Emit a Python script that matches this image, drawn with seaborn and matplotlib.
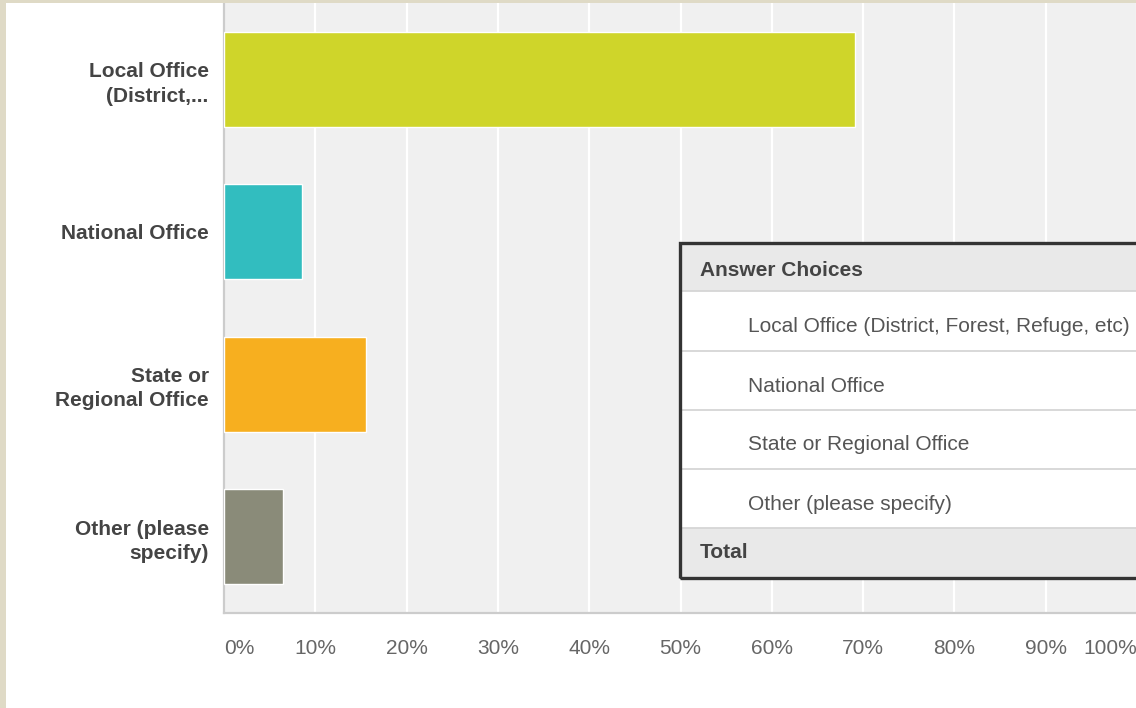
import matplotlib
matplotlib.use("Agg")
import matplotlib.pyplot as plt
import matplotlib.patches as mpatches
import seaborn as sns
import pandas as pd

# Survey responses: share of respondents per office type (%)
categories = ["Local Office\n(District,...", "National Office",
              "State or\nRegional Office", "Other (please\nspecify)"]
shares = [69.1, 8.5, 15.5, 6.5]
bar_colors = ["#cfd52a", "#32bdbf", "#f7af1f", "#8a8b79"]
tick_values = [0, 10, 20, 30, 40, 50, 60, 70, 80, 90, 100]
tick_labels = ["0%", "10%", "20%", "30%", "40%", "50%",
               "60%", "70%", "80%", "90%", "100%"]

# Rows of the answer-choices panel
table_header = "Answer Choices"
table_rows = ["Local Office (District, Forest, Refuge, etc)", "National Office",
              "State or Regional Office", "Other (please specify)"]
table_footer = "Total"

W, H = 1136, 708
FS = 15
sns.set_theme(style="white")
plt.rcParams["font.family"] = ["Liberation Sans", "DejaVu Sans"]

fig = plt.figure(figsize=(W / 100, H / 100), dpi=100, facecolor="white")


def fx(x):
    return x / W


def fy(y):
    return 1 - y / H


ax_left, ax_right, ax_top, ax_bottom = 224, 1137, 3, 613
ax = fig.add_axes([fx(ax_left), fy(ax_bottom),
                   (ax_right - ax_left) / W, (ax_bottom - ax_top) / H])
ax.set_facecolor("#f0f0f0")

df = pd.DataFrame({"category": categories, "share": shares})
sns.barplot(data=df, x="share", y="category", hue="category",
            palette=bar_colors, legend=False, width=0.62, orient="h",
            saturation=1, ax=ax, zorder=3)

ax.set_xlim(0, 100)
ax.set_ylim(3.5, -0.5)
ax.set_xlabel("")
ax.set_ylabel("")

ax.set_xticks(tick_values)
ax.set_xticklabels(tick_labels, fontsize=FS, color="#666666")
xt = ax.get_xticklabels()
xt[0].set_ha("left")
xt[-1].set_ha("right")
ax.tick_params(axis="x", length=0, pad=19)
ax.tick_params(axis="y", length=0, pad=11)
for lab in ax.get_yticklabels():
    lab.set_fontsize(FS)
    lab.set_fontweight("bold")
    lab.set_color("#444444")
    lab.set_linespacing(1.35)

ax.grid(axis="x", color="white", linewidth=1.6, zorder=1)
ax.set_axisbelow(True)
for side in ["top", "right"]:
    ax.spines[side].set_visible(False)
for side in ["left", "bottom"]:
    ax.spines[side].set_color("#cccccc")
    ax.spines[side].set_linewidth(1.6)

# Beige page frame along the left and top edges
fig.add_artist(mpatches.Rectangle((0, 0), fx(6), 1, transform=fig.transFigure,
                                  facecolor="#dfdac6", edgecolor="none", zorder=10))
fig.add_artist(mpatches.Rectangle((0, fy(3)), 1, 3 / H, transform=fig.transFigure,
                                  facecolor="#dfdac6", edgecolor="none", zorder=10))

# Answer-choices panel overlaid on the plot
tl, tr, tt, tb = 680, 1150, 243, 578
header_bottom = 291
row_edges = [291, 351, 410, 469, 528]
footer_top = 528


def band(y0, y1, color):
    fig.add_artist(mpatches.Rectangle((fx(tl), fy(y1)), (tr - tl) / W, (y1 - y0) / H,
                                      transform=fig.transFigure, facecolor=color,
                                      edgecolor="none", zorder=20))


band(tt, tb, "white")
band(tt, header_bottom, "#e9e9e9")
band(footer_top, tb, "#e9e9e9")
for y in row_edges:
    fig.add_artist(plt.Line2D([fx(tl), fx(tr)], [fy(y), fy(y)],
                              transform=fig.transFigure, color="#d6d6d6",
                              linewidth=1.3, zorder=21))
fig.add_artist(mpatches.Rectangle((fx(tl), fy(tb)), (tr - tl) / W, (tb - tt) / H,
                                  transform=fig.transFigure, facecolor="none",
                                  edgecolor="#333333", linewidth=2.4, zorder=22))

fig.text(fx(700), fy(270), table_header, fontsize=FS, fontweight="bold",
         color="#444444", va="center", ha="left", zorder=23)
for label, y in zip(table_rows, [327, 386, 445, 504]):
    fig.text(fx(748), fy(y), label, fontsize=FS, color="#555555",
             va="center", ha="left", zorder=23)
fig.text(fx(700), fy(552), table_footer, fontsize=FS, fontweight="bold",
         color="#444444", va="center", ha="left", zorder=23)

fig.savefig("out.png", dpi=100, facecolor="white")
